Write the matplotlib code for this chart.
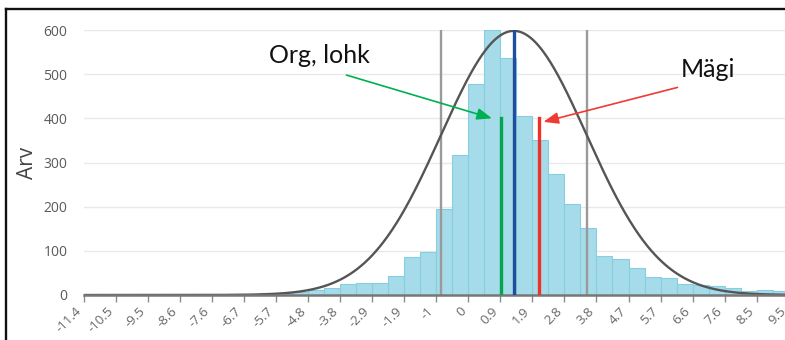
import numpy as np
import matplotlib
matplotlib.use("Agg")
import matplotlib.pyplot as plt
from matplotlib.lines import Line2D

plt.rcParams["font.family"] = ["Open Sans", "DejaVu Sans"]

# Histogram counts per bin (left to right)
counts = [0, 0, 0, 0, 0, 0, 1, 1, 1, 2,
          3, 4, 4, 6, 12, 16, 24, 28, 28, 44,
          86, 97, 194, 317, 477, 600, 537, 406, 351, 273,
          205, 151, 89, 81, 62, 40, 38, 25, 22, 20,
          15, 8, 12, 10]
bin_start = -11.422
bin_width = 0.4755

tick_labels = ["-11.4", "-10.5", "-9.5", "-8.6", "-7.6", "-6.7", "-5.7", "-4.8",
               "-3.8", "-2.9", "-1.9", "-1", "0", "0.9", "1.9", "2.8", "3.8",
               "4.7", "5.7", "6.6", "7.6", "8.5", "9.5"]
y_ticks = [0, 100, 200, 300, 400, 500, 600]

# Fitted normal curve
mean_val = 1.34
sd_val = 2.16
curve_peak = 598

# Marked values
org_value = 0.97
magi_value = 2.10
marker_height = 400

fig = plt.figure(figsize=(7.85, 3.4), dpi=100)
ax = fig.add_axes([84 / 785, 45 / 340, 724 / 785, 265 / 340])

x_right = bin_start + 724 / 33.68

edges = bin_start + bin_width * np.arange(len(counts))
ax.bar(edges, counts, width=bin_width, align="edge", color="#a6dbe9",
       edgecolor="#86cee3", linewidth=0.8, zorder=2)

xs = np.linspace(bin_start, x_right, 800)
ax.plot(xs, curve_peak * np.exp(-0.5 * ((xs - mean_val) / sd_val) ** 2),
        color="#555555", lw=1.7, zorder=4)

for xv in (mean_val - sd_val, mean_val + sd_val):
    ax.plot([xv, xv], [0, 600], color="#9a9a9a", lw=1.7, zorder=3)

ax.plot([mean_val, mean_val], [0, 600], color="#1f4e9f", lw=2.4, zorder=6)
ax.plot([org_value, org_value], [0, marker_height], color="#00a650", lw=2.4, zorder=6)
ax.plot([magi_value, magi_value], [0, marker_height], color="#f0302a", lw=2.4, zorder=6)

# Labels with arrows
ax.annotate("", xy=(org_value - 0.28, marker_height), xytext=(-3.63, 498),
            arrowprops=dict(arrowstyle="-|>,head_length=0.9,head_width=0.35",
                            color="#00b050", lw=1.2, shrinkA=0, shrinkB=0),
            zorder=7)
ax.annotate("", xy=(magi_value + 0.12, marker_height - 8), xytext=(6.2, 470),
            arrowprops=dict(arrowstyle="-|>,head_length=0.9,head_width=0.35",
                            color="#f03a32", lw=1.2, shrinkA=0, shrinkB=0),
            zorder=7)
ax.text(-4.42, 525, "Org, lohk", family=["Lato", "DejaVu Sans"], fontsize=18,
        ha="center", va="baseline", color="#111111", zorder=7)
ax.text(7.11, 494, "Mägi", family=["Lato", "DejaVu Sans"], fontsize=18,
        ha="center", va="baseline", color="#111111", zorder=7)

ax.set_xlim(bin_start, x_right)
ax.set_ylim(0, 600)

ax.set_xticks(bin_start + 2 * bin_width * np.arange(len(tick_labels)))
ax.set_xticklabels(tick_labels, rotation=45, ha="right", va="top",
                   fontsize=9.5, color="#666666")
ax.tick_params(axis="x", length=5, width=1, color="#8a8a8a", pad=2)

ax.set_yticks(y_ticks)
ax.set_yticklabels([str(v) for v in y_ticks], fontsize=10, color="#5a5a5a")
ax.tick_params(axis="y", length=0, pad=12)

ax.grid(axis="y", color="#e9e9e9", lw=1)
ax.set_axisbelow(True)
for side in ("top", "right", "left"):
    ax.spines[side].set_visible(False)
ax.spines["bottom"].set_color("#777777")
ax.spines["bottom"].set_linewidth(1.8)
ax.spines["bottom"].set_zorder(5)

ax.set_ylabel("Arv", fontsize=15, color="#444444")
ax.yaxis.set_label_coords(-0.063, 0.5)

# Outer frame
fig.add_artist(Line2D([6 / 785, 6 / 785], [0, 1 - 9 / 340], transform=fig.transFigure,
                      color="#111111", lw=1.7))
fig.add_artist(Line2D([6 / 785, 1], [1 - 9 / 340, 1 - 9 / 340], transform=fig.transFigure,
                      color="#111111", lw=1.7))

fig.savefig("out.png", dpi=100)
